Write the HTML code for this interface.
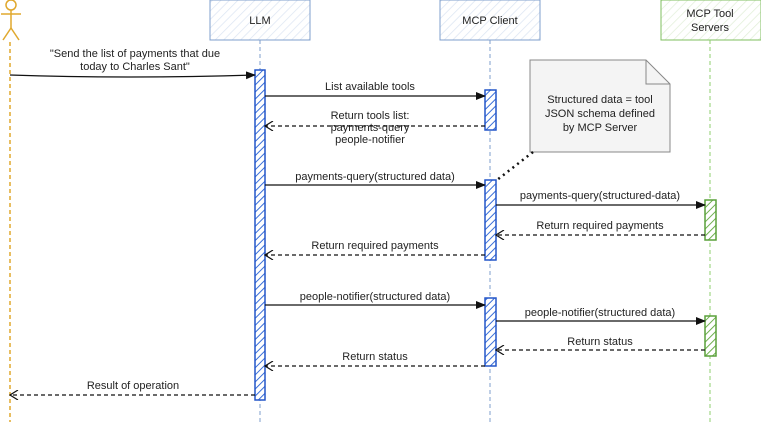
<!DOCTYPE html>
<html><head><meta charset="utf-8"><style>
html,body{margin:0;padding:0;background:#fff;}
svg{display:block;}
text{font-family:"Liberation Sans",sans-serif;font-size:11px;fill:#222;}
</style></head><body>
<svg width="761" height="422" viewBox="0 0 761 422" xmlns="http://www.w3.org/2000/svg">
<defs>
<pattern id="hb" width="5" height="5" patternUnits="userSpaceOnUse" patternTransform="rotate(45)"><rect width="5" height="5" fill="#fff"/><line x1="0" y1="0" x2="0" y2="5" stroke="#3a6fd8" stroke-width="2"/></pattern>
<pattern id="hl" width="6" height="6" patternUnits="userSpaceOnUse" patternTransform="rotate(45)"><rect width="6" height="6" fill="#fff"/><line x1="0" y1="0" x2="0" y2="6" stroke="#dde6f3" stroke-width="1.5"/></pattern>
<pattern id="hg" width="5" height="5" patternUnits="userSpaceOnUse" patternTransform="rotate(45)"><rect width="5" height="5" fill="#fff"/><line x1="0" y1="0" x2="0" y2="5" stroke="#6fb04f" stroke-width="2"/></pattern>
<pattern id="hgl" width="6" height="6" patternUnits="userSpaceOnUse" patternTransform="rotate(45)"><rect width="6" height="6" fill="#fff"/><line x1="0" y1="0" x2="0" y2="6" stroke="#e2efd9" stroke-width="1.5"/></pattern>
<marker id="af" markerWidth="10" markerHeight="8" refX="9" refY="4" orient="auto" markerUnits="userSpaceOnUse"><path d="M0,0 L10,4 L0,8z" fill="#111"/></marker>
<marker id="ao" markerWidth="10" markerHeight="10" refX="9" refY="5" orient="auto" markerUnits="userSpaceOnUse"><path d="M1,0 L9,5 L1,10" fill="none" stroke="#111" stroke-width="1.2"/></marker>
</defs>
<g stroke="#e0a82e" stroke-width="1.5" fill="none">
<circle cx="11" cy="5" r="5"/><line x1="11" y1="10" x2="11" y2="28"/><line x1="1" y1="14" x2="21" y2="14"/><line x1="11" y1="28" x2="3" y2="40"/><line x1="11" y1="28" x2="19" y2="40"/>
<line x1="10" y1="42" x2="10" y2="422" stroke-dasharray="4,3"/>
</g>
<rect x="210" y="0" width="100" height="40" fill="url(#hl)" stroke="#7f9fcc" stroke-width="1"/>
<text x="260" y="24" text-anchor="middle" font-size="12">LLM</text>
<line x1="260" y1="40" x2="260" y2="422" stroke="#7f9fcc" stroke-dasharray="4,3"/>
<rect x="255" y="70" width="10" height="330" fill="url(#hb)" stroke="#2456c9" stroke-width="1.5"/>
<rect x="440" y="0" width="100" height="40" fill="url(#hl)" stroke="#7f9fcc"/>
<text x="490" y="24" text-anchor="middle" font-size="12">MCP Client</text>
<line x1="490" y1="40" x2="490" y2="422" stroke="#7f9fcc" stroke-dasharray="4,3"/>
<rect x="485" y="90" width="11" height="40" fill="url(#hb)" stroke="#2456c9" stroke-width="1.5"/>
<rect x="485" y="180" width="11" height="80" fill="url(#hb)" stroke="#2456c9" stroke-width="1.5"/>
<rect x="485" y="298" width="11" height="68" fill="url(#hb)" stroke="#2456c9" stroke-width="1.5"/>
<rect x="661" y="0" width="100" height="40" fill="url(#hgl)" stroke="#7fbf5f"/>
<text x="710" y="17" text-anchor="middle" font-size="12">MCP Tool</text>
<text x="710" y="31" text-anchor="middle" font-size="12">Servers</text>
<line x1="710" y1="40" x2="710" y2="422" stroke="#8fcf6f" stroke-dasharray="4,3"/>
<rect x="705" y="200" width="11" height="40" fill="url(#hg)" stroke="#5aa03a" stroke-width="1.5"/>
<rect x="705" y="316" width="11" height="40" fill="url(#hg)" stroke="#5aa03a" stroke-width="1.5"/>
<path d="M530,60 L646,60 L670,84 L670,152 L530,152 Z" fill="#f4f4f4" stroke="#888"/>
<path d="M646,60 L646,84 L670,84" fill="none" stroke="#888"/>
<text x="600" y="103" text-anchor="middle">Structured data = tool</text>
<text x="600" y="117" text-anchor="middle">JSON schema defined</text>
<text x="600" y="131" text-anchor="middle">by MCP Server</text>
<line x1="533" y1="152" x2="497" y2="180" stroke="#111" stroke-width="2.5" stroke-dasharray="2,4"/>
<g stroke="#111" stroke-width="1.2" fill="none">
<path d="M10,75 Q130,79 255,75" marker-end="url(#af)"/>
<line x1="265" y1="96" x2="485" y2="96" marker-end="url(#af)"/>
<line x1="485" y1="126" x2="265" y2="126" stroke-dasharray="4,3" marker-end="url(#ao)"/>
<line x1="265" y1="185" x2="485" y2="185" marker-end="url(#af)"/>
<line x1="496" y1="205" x2="705" y2="205" marker-end="url(#af)"/>
<line x1="705" y1="235" x2="496" y2="235" stroke-dasharray="4,3" marker-end="url(#ao)"/>
<line x1="485" y1="255" x2="265" y2="255" stroke-dasharray="4,3" marker-end="url(#ao)"/>
<line x1="265" y1="305" x2="485" y2="305" marker-end="url(#af)"/>
<line x1="496" y1="321" x2="705" y2="321" marker-end="url(#af)"/>
<line x1="705" y1="350" x2="496" y2="350" stroke-dasharray="4,3" marker-end="url(#ao)"/>
<line x1="485" y1="366" x2="265" y2="366" stroke-dasharray="4,3" marker-end="url(#ao)"/>
<line x1="255" y1="395" x2="10" y2="395" stroke-dasharray="4,3" marker-end="url(#ao)"/>
</g>
<text x="135" y="57" text-anchor="middle">"Send the list of payments that due</text>
<text x="135" y="70" text-anchor="middle">today to Charles Sant"</text>
<text x="370" y="90" text-anchor="middle">List available tools</text>
<text x="370" y="119" text-anchor="middle">Return tools list:</text>
<text x="370" y="131" text-anchor="middle">payments-query</text>
<text x="370" y="143" text-anchor="middle">people-notifier</text>
<text x="375" y="180" text-anchor="middle">payments-query(structured data)</text>
<text x="600" y="199" text-anchor="middle">payments-query(structured-data)</text>
<text x="600" y="229" text-anchor="middle">Return required payments</text>
<text x="375" y="249" text-anchor="middle">Return required payments</text>
<text x="375" y="300" text-anchor="middle">people-notifier(structured data)</text>
<text x="600" y="316" text-anchor="middle">people-notifier(structured data)</text>
<text x="600" y="345" text-anchor="middle">Return status</text>
<text x="375" y="360" text-anchor="middle">Return status</text>
<text x="133" y="389" text-anchor="middle">Result of operation</text>
</svg>
</body></html>
